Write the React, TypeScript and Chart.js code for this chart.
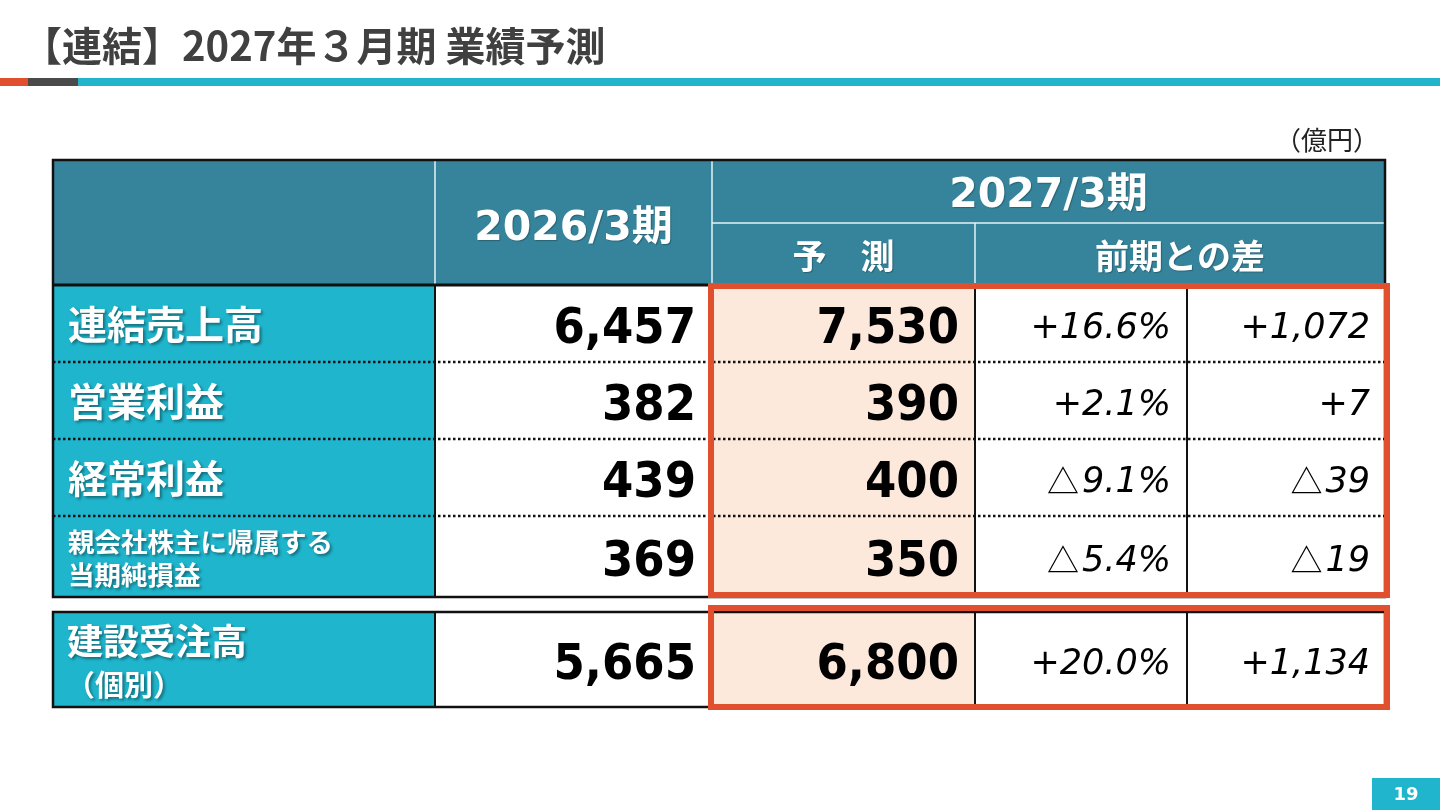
import React, { useEffect, useRef } from "react";
import { Chart, registerables } from "chart.js";

Chart.register(...registerables);

// ---------- data ----------
const titleText = "【連結】2027年３月期 業績予測";
const unitLabel = "（億円）";
const pageNumber = "19";
const headerPrev = "2026/3期";
const headerNext = "2027/3期";
const headerSub = ["予　測", "前期との差"];
const metricLabels: string[][] = [
  ["連結売上高"],
  ["営業利益"],
  ["経常利益"],
  ["親会社株主に帰属する", "当期純損益"],
  ["建設受注高", "（個別）"],
];
const results2026 = [6457, 382, 439, 369, 5665];
const forecast2027 = [7530, 390, 400, 350, 6800];
const changePct = [16.6, 2.1, -9.1, -5.4, 20.0];
const changeAmt = [1072, 7, -39, -19, 1134];

// ---------- layout (table units) ----------
const COLS = [0, 382, 659, 922, 1134, 1332];
const HEADER_SPLIT = 63;
const HEADER_BOTTOM = 125;
const ROWS: [number, number][] = [
  [125, 202],
  [202, 279],
  [279, 356],
  [356, 437],
  [452, 547],
];
const GROUPS: [number, number][] = [
  [125, 437],
  [452, 547],
];

const C_HEADER = "#35849b";
const C_LABEL = "#1fb6cd";
const C_PEACH = "#fde9dc";
const C_RED = "#e0502f";
const C_TEAL = "#22b4ca";
const CJK = "'Noto Sans CJK JP'";
const DV = "'DejaVu Sans'";

const fmtInt = (n: number) => Math.abs(n).toLocaleString("en-US");

const tablePlugin = {
  id: "tablePlugin",
  afterDraw(chart: any) {
    const ctx: CanvasRenderingContext2D = chart.ctx;
    const sx = chart.scales.x;
    const sy = chart.scales.y;
    const X = (v: number) => sx.getPixelForValue(v);
    const Y = (v: number) => sy.getPixelForValue(v);
    ctx.save();

    // ----- page decorations -----
    ctx.fillStyle = "#404040";
    ctx.font = `bold 40px ${CJK}`;
    ctx.textBaseline = "middle";
    ctx.textAlign = "left";
    ctx.fillText(titleText, 22, 46);

    ctx.fillStyle = C_RED;
    ctx.fillRect(0, 78, 28, 8);
    ctx.fillStyle = "#4a4a4a";
    ctx.fillRect(28, 78, 50, 8);
    ctx.fillStyle = C_TEAL;
    ctx.fillRect(78, 78, 1362, 8);

    ctx.fillStyle = "#222";
    ctx.font = `26px ${CJK}`;
    ctx.textAlign = "right";
    ctx.fillText(unitLabel, 1379, 140);

    ctx.fillStyle = "#20b5cc";
    ctx.fillRect(1372, 778, 68, 32);
    ctx.fillStyle = "#fff";
    ctx.font = `bold 18px ${DV}`;
    ctx.textAlign = "center";
    ctx.fillText(pageNumber, 1406, 795);

    // ----- header -----
    const L = X(COLS[0]);
    const R = X(COLS[5]);
    ctx.fillStyle = C_HEADER;
    ctx.fillRect(L, Y(0), R - L, Y(HEADER_BOTTOM) - Y(0));

    // body fills
    ROWS.forEach(([a, b]) => {
      const t = Y(a), h = Y(b) - Y(a);
      ctx.fillStyle = C_LABEL;
      ctx.fillRect(X(COLS[0]), t, X(COLS[1]) - X(COLS[0]), h);
      ctx.fillStyle = "#fff";
      ctx.fillRect(X(COLS[1]), t, X(COLS[2]) - X(COLS[1]), h);
      ctx.fillStyle = C_PEACH;
      ctx.fillRect(X(COLS[2]), t, X(COLS[3]) - X(COLS[2]), h);
      ctx.fillStyle = "#fff";
      ctx.fillRect(X(COLS[3]), t, X(COLS[5]) - X(COLS[3]), h);
    });

    // header white lines
    ctx.strokeStyle = "#e6f3f6";
    ctx.lineWidth = 1.5;
    ctx.setLineDash([]);
    const line = (x1: number, y1: number, x2: number, y2: number) => {
      ctx.beginPath();
      ctx.moveTo(x1, y1);
      ctx.lineTo(x2, y2);
      ctx.stroke();
    };
    line(X(COLS[1]), Y(0), X(COLS[1]), Y(HEADER_BOTTOM));
    line(X(COLS[2]), Y(0), X(COLS[2]), Y(HEADER_BOTTOM));
    line(X(COLS[2]), Y(HEADER_SPLIT), X(COLS[5]), Y(HEADER_SPLIT));
    line(X(COLS[3]), Y(HEADER_SPLIT), X(COLS[3]), Y(HEADER_BOTTOM));

    // dotted row separators
    ctx.strokeStyle = "#111";
    ctx.lineWidth = 2.5;
    ctx.setLineDash([2.5, 2.5]);
    for (let i = 0; i < 3; i++) {
      const yy = Y(ROWS[i][1]);
      line(L, yy, R, yy);
    }
    ctx.setLineDash([]);

    // vertical black lines in body
    ctx.strokeStyle = "#111";
    ctx.lineWidth = 2;
    GROUPS.forEach(([a, b]) => {
      [1, 2, 3, 4].forEach((c) => line(X(COLS[c]), Y(a), X(COLS[c]), Y(b)));
    });

    // outer borders
    ctx.lineWidth = 2.5;
    ctx.strokeRect(L, Y(0), R - L, Y(GROUPS[0][1]) - Y(0));
    ctx.lineWidth = 3;
    line(L, Y(HEADER_BOTTOM), R, Y(HEADER_BOTTOM));
    ctx.lineWidth = 2.5;
    ctx.strokeRect(L, Y(GROUPS[1][0]), R - L, Y(GROUPS[1][1]) - Y(GROUPS[1][0]));

    // red highlight boxes
    ctx.strokeStyle = C_RED;
    ctx.lineWidth = 6;
    ctx.strokeRect(X(COLS[2]) - 1, Y(GROUPS[0][0]) + 1, R + 2 - X(COLS[2]) + 1, Y(GROUPS[0][1]) - Y(GROUPS[0][0]) - 3);
    ctx.strokeRect(X(COLS[2]) - 1, Y(GROUPS[1][0]) - 4, R + 2 - X(COLS[2]) + 1, Y(GROUPS[1][1]) - Y(GROUPS[1][0]) + 4);

    // ----- header texts -----
    ctx.fillStyle = "#ffffff";
    ctx.textAlign = "center";
    ctx.textBaseline = "alphabetic";
    ctx.shadowColor = "rgba(0,0,0,0.25)";
    ctx.shadowOffsetX = 1;
    ctx.shadowOffsetY = 1;
    ctx.shadowBlur = 1;
    ctx.font = `bold 41px ${DV}, ${CJK}`;
    ctx.fillText(headerPrev, (X(COLS[1]) + X(COLS[2])) / 2, (Y(0) + Y(HEADER_BOTTOM)) / 2 + 17);
    ctx.fillText(headerNext, (X(COLS[2]) + X(COLS[5])) / 2, (Y(0) + Y(HEADER_SPLIT)) / 2 + 15);
    ctx.textBaseline = "middle";
    ctx.font = `bold 34px ${CJK}`;
    const subMid = (Y(HEADER_SPLIT) + Y(HEADER_BOTTOM)) / 2 + 2;
    ctx.fillText(headerSub[0], (X(COLS[2]) + X(COLS[3])) / 2, subMid);
    ctx.fillText(headerSub[1], (X(COLS[3]) + X(COLS[5])) / 2, subMid);

    // ----- row labels -----
    ctx.textAlign = "left";
    ctx.shadowColor = "rgba(0,0,0,0.4)";
    ctx.shadowOffsetX = 2;
    ctx.shadowOffsetY = 2;
    ctx.shadowBlur = 3;
    const lx = X(COLS[0]) + 15;
    metricLabels.forEach((lines, i) => {
      const cy = (Y(ROWS[i][0]) + Y(ROWS[i][1])) / 2;
      if (lines.length === 1) {
        ctx.font = `bold 39px ${CJK}`;
        ctx.fillText(lines[0], lx, cy + 1);
      } else if (i === 3) {
        ctx.font = `bold 26.5px ${CJK}`;
        ctx.fillText(lines[0], lx, cy - 15);
        ctx.fillText(lines[1], lx, cy + 18);
      } else {
        ctx.font = `bold 36px ${CJK}`;
        ctx.fillText(lines[0], lx - 1, cy - 18);
        ctx.font = `bold 29px ${CJK}`;
        ctx.fillText(lines[1], lx - 2, cy + 25);
      }
    });
    ctx.shadowColor = "transparent";
    ctx.shadowOffsetX = 0;
    ctx.shadowOffsetY = 0;
    ctx.shadowBlur = 0;

    // ----- numbers -----
    ctx.fillStyle = "#000";
    ctx.textBaseline = "alphabetic";
    const bold = (text: string, xr: number, base: number) => {
      ctx.save();
      ctx.translate(xr, base);
      ctx.scale(0.92, 1);
      ctx.textAlign = "right";
      ctx.font = `bold 49px ${DV}`;
      ctx.fillText(text, 0, 0);
      ctx.restore();
    };
    const italic = (value: string, neg: boolean, xr: number, base: number) => {
      ctx.textAlign = "right";
      ctx.font = `italic 35px ${DV}`;
      const text = neg ? value : "+" + value;
      ctx.fillText(text, xr, base);
      if (neg) {
        const w = ctx.measureText(text).width;
        ctx.font = `32px ${CJK}`;
        ctx.fillText("△", xr - w - 3, base + 1);
      }
    };
    ROWS.forEach(([a, b], i) => {
      const cy = (Y(a) + Y(b)) / 2;
      bold(fmtInt(results2026[i]), X(COLS[2]) - 16, cy + 19);
      bold(fmtInt(forecast2027[i]), X(COLS[3]) - 16, cy + 19);
      italic(Math.abs(changePct[i]).toFixed(1) + "%", changePct[i] < 0, X(COLS[4]) - 16, cy + 14);
      italic(fmtInt(changeAmt[i]), changeAmt[i] < 0, X(COLS[5]) - 15, cy + 14);
    });

    ctx.restore();
  },
};

export default function App() {
  const ref = useRef<HTMLCanvasElement | null>(null);
  useEffect(() => {
    document.body.style.margin = "0";
    document.body.style.background = "#fff";
    if (!ref.current) return;
    const chart = new Chart(ref.current, {
      type: "scatter",
      data: { datasets: [] },
      options: {
        animation: false,
        responsive: false,
        maintainAspectRatio: false,
        events: [],
        layout: { padding: { left: 53, top: 160, right: 55, bottom: 103 } },
        scales: {
          x: { type: "linear", min: COLS[0], max: COLS[5], display: false },
          y: { type: "linear", min: 0, max: ROWS[ROWS.length - 1][1], reverse: true, display: false },
        },
        plugins: { legend: { display: false }, tooltip: { enabled: false } },
      },
      plugins: [tablePlugin],
    } as any);
    return () => chart.destroy();
  }, []);
  return (
    <div style={{ width: 1440, height: 810, position: "relative", background: "#fff" }}>
      <canvas ref={ref} width={1440} height={810} style={{ display: "block", width: 1440, height: 810 }} />
    </div>
  );
}
